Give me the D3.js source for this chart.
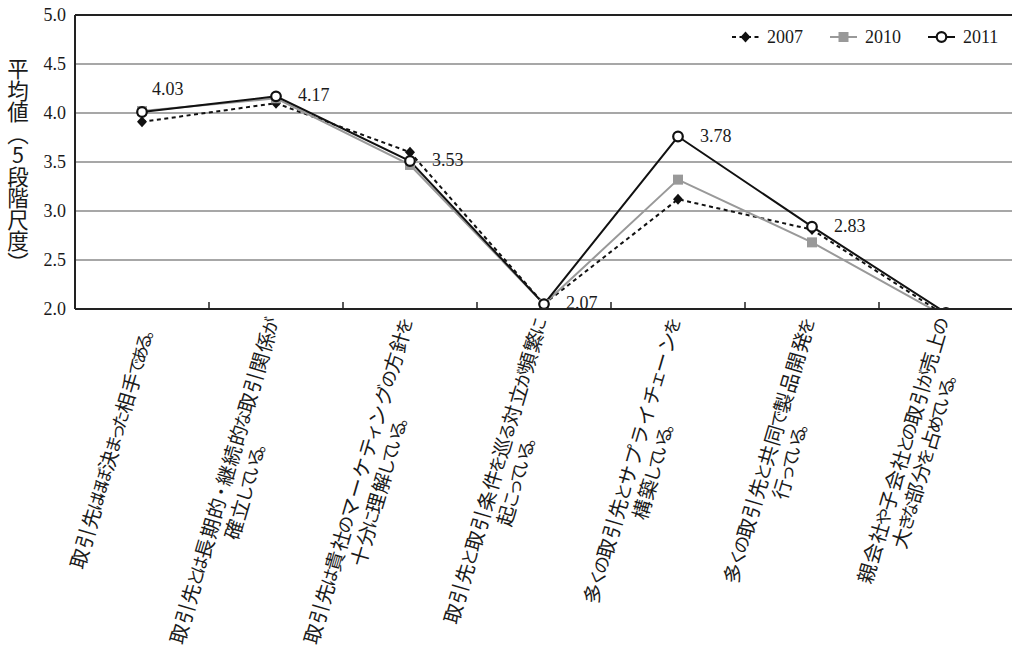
<!DOCTYPE html>
<html><head><meta charset="utf-8">
<script src="https://cdn.jsdelivr.net/npm/d3@7"></script>
<style>body{margin:0;background:#fff}</style>
</head><body><svg id="c" width="1012" height="654"></svg>
<script>
const categories = [
  ["取引先はほぼ決まった相手である。"],
  ["取引先とは長期的・継続的な取引関係が", "確立している。"],
  ["取引先は貴社のマーケティングの方針を", "十分に理解している。"],
  ["取引先と取引条件を巡る対立が頻繁に", "起こっている。"],
  ["多くの取引先とサプライチェーンを", "構築している。"],
  ["多くの取引先と共同で製品開発を", "行っている。"],
  ["親会社や子会社との取引が売上の", "大きな部分を占めている。"]
];
const seriesNames = ["2007", "2010", "2011"];
const values2007 = [3.91, 4.10, 3.60, 2.05, 3.12, 2.81, 1.93];
const values2010 = [4.02, 4.15, 3.47, 2.05, 3.32, 2.68, 1.92];
const values2011 = [4.01, 4.17, 3.51, 2.05, 3.76, 2.84, 1.96];
const dataLabels = ["4.03", "4.17", "3.53", "2.07", "3.78", "2.83", ""];
const yTicks = [2.0, 2.5, 3.0, 3.5, 4.0, 4.5, 5.0];
const yTitle = "平均値（5段階尺度）";

(function () {
const NUM_FONT = "'Liberation Serif', 'DejaVu Serif', serif";
const JP_FONT = "'Noto Sans CJK JP', sans-serif";

const svg = d3.select("#c");
const pL = 75, pR = 1013, pT = 15, pB = 309;
const x = d3.scaleBand().domain(d3.range(categories.length)).range([pL, pR]);
const y = d3.scaleLinear().domain([2, 5]).range([pB, pT]);
const cx = i => x(i) + x.bandwidth() / 2;

// gridlines
svg.append("g").selectAll("line").data(yTicks.filter(t => t > 2 && t < 5)).join("line")
  .attr("x1", pL).attr("x2", 1012).attr("y1", d => y(d)).attr("y2", d => y(d))
  .attr("stroke", "#8a8a8a").attr("stroke-width", 1.6);
// top border
svg.append("line").attr("x1", pL).attr("x2", 1012).attr("y1", y(5)).attr("y2", y(5))
  .attr("stroke", "#222").attr("stroke-width", 2);

// y axis labels
svg.append("g").selectAll("text").data(yTicks).join("text")
  .attr("x", 66).attr("y", d => y(d)).attr("dy", "0.35em")
  .attr("text-anchor", "end").attr("font-family", NUM_FONT).attr("font-size", 18)
  .attr("fill", "#1a1a1a").text(d => d.toFixed(1));

// y title
svg.append("text").attr("x", 18).attr("y", 166)
  .attr("text-anchor", "middle")
  .style("writing-mode", "vertical-rl").style("text-orientation", "upright")
  .attr("font-family", JP_FONT).attr("font-size", 21.5).attr("fill", "#1a1a1a")
  .text(yTitle);

// clip
svg.append("clipPath").attr("id", "plotclip").append("rect")
  .attr("x", pL).attr("y", pT - 10).attr("width", 1012 - pL).attr("height", pB - pT + 10);

const series = [
  {name: seriesNames[0], values: values2007, color: "#111", dash: "4,3.5", marker: "diamond"},
  {name: seriesNames[1], values: values2010, color: "#999", dash: null, marker: "square"},
  {name: seriesNames[2], values: values2011, color: "#111", dash: null, marker: "circle"}
];

function drawMarker(g, type, px, py, color) {
  if (type === "diamond") {
    g.append("path").attr("d", `M${px},${py-5.5}L${px+5},${py}L${px},${py+5.5}L${px-5},${py}Z`)
      .attr("fill", color);
  } else if (type === "square") {
    g.append("rect").attr("x", px - 5).attr("y", py - 5).attr("width", 10).attr("height", 10)
      .attr("fill", color);
  } else {
    g.append("circle").attr("cx", px).attr("cy", py).attr("r", 4.8)
      .attr("fill", "#fff").attr("stroke", color).attr("stroke-width", 2.2);
  }
}

const plot = svg.append("g").attr("clip-path", "url(#plotclip)");
const line = d3.line().x((d, i) => cx(i)).y(d => y(d));
series.forEach(s => {
  plot.append("path").attr("d", line(s.values)).attr("fill", "none")
    .attr("stroke", s.color).attr("stroke-width", 2)
    .attr("stroke-dasharray", s.dash);
});
series.forEach(s => {
  const g = plot.append("g");
  s.values.forEach((v, i) => drawMarker(g, s.marker, cx(i), y(v), s.color));
});

// axes lines
svg.append("line").attr("x1", pL).attr("x2", pL).attr("y1", pT).attr("y2", pB)
  .attr("stroke", "#222").attr("stroke-width", 2);
svg.append("line").attr("x1", pL).attr("x2", 1012).attr("y1", pB).attr("y2", pB)
  .attr("stroke", "#222").attr("stroke-width", 2);
svg.append("g").selectAll("line").data(d3.range(1, categories.length)).join("line")
  .attr("x1", i => x(i)).attr("x2", i => x(i)).attr("y1", pB).attr("y2", pB - 7)
  .attr("stroke", "#222").attr("stroke-width", 1.5);

// data labels (2011)
svg.append("g").selectAll("text").data(dataLabels.map((t, i) => ({t, i}))).join("text")
  .attr("x", d => d.i === 0 ? cx(d.i) + 10 : cx(d.i) + 22)
  .attr("y", d => d.i === 0 ? y(values2011[d.i]) - 17 : y(values2011[d.i]) + 5)
  .attr("font-family", NUM_FONT).attr("font-size", 18).attr("fill", "#1a1a1a")
  .text(d => d.t);

// x labels: proportional hiragana (narrow), full-width kanji/katakana
const isNarrow = ch => /[\u3041-\u309F\u3001\u3002\u30FB\u30A1\u30A3\u30A5\u30A7\u30A9\u30C3\u30E3\u30E5\u30E7]/.test(ch);
const WIDE = {fs: 20, adv: 21}, NARROW = {fs: 17.5, adv: 13};
const ANGLE = -73.5, LH = 23;
categories.forEach((lines, i) => {
  const g = svg.append("g").attr("transform", `translate(${cx(i) + 7},${323}) rotate(${ANGLE})`);
  const info = lines.map(l => {
    const chars = Array.from(l).map(ch => ({ch, m: isNarrow(ch) ? NARROW : WIDE}));
    return {chars, w: d3.sum(chars, c => c.m.adv)};
  });
  const maxW = d3.max(info, d => d.w);
  info.forEach((d, j) => {
    const t = g.append("text").attr("font-family", JP_FONT).attr("fill", "#1a1a1a");
    const lineMid = (j - (lines.length - 1) / 2) * LH;
    let pos = -maxW / 2 - d.w / 2;
    d.chars.forEach(c => {
      t.append("tspan")
        .attr("x", pos + (c.m.adv - c.m.fs) / 2)
        .attr("y", lineMid + 0.38 * c.m.fs)
        .attr("font-size", c.m.fs)
        .text(c.ch);
      pos += c.m.adv;
    });
  });
});

// legend
const legX = [732, 830, 928];
series.forEach((s, k) => {
  const g = svg.append("g");
  const lx = legX[k], ly = 37;
  g.append("line").attr("x1", lx).attr("x2", lx + 27).attr("y1", ly).attr("y2", ly)
    .attr("stroke", s.color).attr("stroke-width", 2).attr("stroke-dasharray", s.dash);
  drawMarker(g, s.marker, lx + 13.5, ly, s.color);
  g.append("text").attr("x", lx + 35).attr("y", ly).attr("dy", "0.35em")
    .attr("font-family", NUM_FONT).attr("font-size", 18).attr("fill", "#1a1a1a").text(s.name);
});
})();
</script>
</body></html>
